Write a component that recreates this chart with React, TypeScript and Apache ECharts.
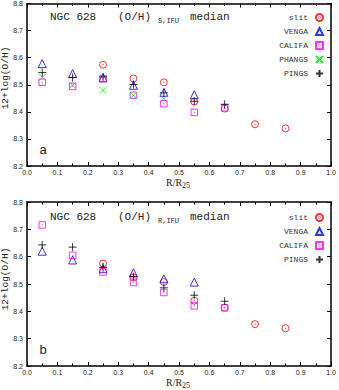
import React, { useEffect, useRef } from "react";
import * as echarts from "echarts";

const xTicks = ["0.0", "0.1", "0.2", "0.3", "0.4", "0.5", "0.6", "0.7", "0.8", "0.9", "1.0"];

// Panel a: (O/H)_S,IFU
const slitRadii = [0.25, 0.35, 0.45, 0.55, 0.65, 0.75, 0.85];
const slitA = [8.574, 8.523, 8.509, 8.438, 8.412, 8.354, 8.339];
const vengaRadii = [0.05, 0.15, 0.25, 0.35, 0.45, 0.55];
const vengaA = [8.578, 8.541, 8.526, 8.498, 8.472, 8.463];
const califaRadii = [0.05, 0.15, 0.25, 0.35, 0.45, 0.55, 0.65];
const califaA = [8.509, 8.494, 8.522, 8.461, 8.43, 8.398, 8.415];
const phangsRadii = [0.05, 0.15, 0.25, 0.35, 0.45];
const phangsA = [8.527, 8.498, 8.479, 8.461, 8.449];
const pingsRadii = [0.05, 0.15, 0.25, 0.35, 0.45, 0.55, 0.65];
const pingsA = [8.545, 8.527, 8.529, 8.501, 8.47, 8.439, 8.428];

// Panel b: (O/H)_R,IFU
const slitB = [8.575, 8.524, 8.507, 8.439, 8.413, 8.353, 8.338];
const vengaB = [8.62, 8.588, 8.556, 8.541, 8.519, 8.507];
const califaB = [8.716, 8.605, 8.544, 8.506, 8.469, 8.42, 8.413];
const pingsB = [8.643, 8.635, 8.561, 8.527, 8.486, 8.459, 8.437];

const legendA = ["slit", "VENGA", "CALIFA", "PHANGS", "PINGS"];
const legendB = ["slit", "VENGA", "CALIFA", "PINGS"];

const SYM_CIRCLE =
  "path://M10,5A5,5,0,1,1,0,5A5,5,0,1,1,10,5ZM5.35,5A0.35,0.35,0,1,1,4.65,5A0.35,0.35,0,1,1,5.35,5Z";
const SYM_SQUARE = "path://M0,0H10V10H0ZM5.35,5A0.35,0.35,0,1,1,4.65,5A0.35,0.35,0,1,1,5.35,5Z";
const SYM_X = "path://M0,0L10,10M10,0L0,10";
const SYM_PLUS = "path://M5,0V10M0,5H10";

const styles: Record<string, { symbol: string; size: number; color: string }> = {
  slit: { symbol: SYM_CIRCLE, size: 7, color: "#ff0000" },
  VENGA: { symbol: "triangle", size: 8, color: "#0000ff" },
  CALIFA: { symbol: SYM_SQUARE, size: 6.5, color: "#ff00ff" },
  PHANGS: { symbol: SYM_X, size: 6.5, color: "#00dd00" },
  PINGS: { symbol: SYM_PLUS, size: 8, color: "#000000" },
};

function pairs(xs: number[], ys: number[]) {
  return ys.map((y, i) => [xs[i], y]);
}

function mkSeries(name: string, xs: number[], ys: number[], idx: number) {
  const s = styles[name];
  return {
    type: "scatter",
    name,
    xAxisIndex: idx * 2,
    yAxisIndex: idx * 2,
    symbol: s.symbol,
    symbolSize: s.size,
    itemStyle: { color: "transparent", borderColor: s.color, borderWidth: 1 },
    emphasis: { disabled: true },
    data: pairs(xs, ys),
  };
}

const GRID_L = 27;
const GRID_W = 308;
const GRID_H = 164;
const TOPS = [2, 202];

function axesFor(i: number) {
  const axisLine = { show: true, onZero: false, lineStyle: { color: "#000", width: 1.5 } };
  const xBase = {
    type: "value",
    gridIndex: i,
    min: 0,
    max: 1,
    interval: 0.1,
    axisLine,
    axisTick: { show: true, inside: true, length: 4, lineStyle: { color: "#000", width: 1 } },
    minorTick: { show: true, splitNumber: 2, length: 2.5, lineStyle: { color: "#000", width: 1 } },
    splitLine: { show: false },
  };
  const yBase = {
    type: "value",
    gridIndex: i,
    min: 8.2,
    max: 8.8,
    interval: 0.1,
    axisLine,
    axisTick: { show: true, inside: true, length: 4, lineStyle: { color: "#000", width: 1 } },
    splitLine: { show: false },
  };
  return {
    x: [
      {
        ...xBase,
        position: "bottom",
        axisLabel: {
          show: true,
          fontSize: 7,
          fontFamily: "Liberation Sans",
          color: "#222",
          margin: 3,
          formatter: (v: number) => xTicks[Math.round(v * 10)],
        },
      },
      { ...xBase, position: "top", axisLabel: { show: false } },
    ],
    y: [
      {
        ...yBase,
        position: "left",
        axisLabel: {
          show: true,
          fontSize: 7,
          fontFamily: "Liberation Sans",
          color: "#222",
          margin: 4,
          formatter: (v: number) => v.toFixed(1),
        },
      },
      { ...yBase, position: "right", axisLabel: { show: false } },
    ],
  };
}

function titleGraphics(top: number, sub: string, letter: string) {
  const mono = "Liberation Mono";
  const t = top - 2;
  return [
    { type: "text", x: 50, y: t + 17, style: { text: "NGC 628", font: `11px "${mono}"`, fill: "#222", verticalAlign: "middle" } },
    { type: "text", x: 118, y: t + 17, style: { text: "(O/H)", font: `11px "${mono}"`, fill: "#222", verticalAlign: "middle" } },
    { type: "text", x: 158, y: t + 21, style: { text: sub, font: `7px "${mono}"`, fill: "#222", verticalAlign: "middle" } },
    { type: "text", x: 190, y: t + 17, style: { text: "median", font: `11px "${mono}"`, fill: "#222", verticalAlign: "middle" } },
    { type: "text", x: 43, y: t + 149, style: { text: letter, font: `13px "Liberation Sans"`, fill: "#222", align: "center", verticalAlign: "middle" } },
    {
      type: "text",
      x: 5,
      y: t + (top === 2 ? 78 : 79),
      rotation: Math.PI / 2,
      style: { text: "12+log(O/H)", font: `9.5px "${mono}"`, fill: "#222", align: "center", verticalAlign: "middle" },
    },
    { type: "text", x: 166, y: top + 180.5, style: { text: "R/R", font: `10px "Liberation Serif"`, fill: "#222", verticalAlign: "middle" } },
    { type: "text", x: 182, y: top + 183.5, style: { text: "25", font: `8px "Liberation Serif"`, fill: "#222", verticalAlign: "middle" } },
  ];
}

export default function App() {
  const ref = useRef<HTMLDivElement>(null);
  useEffect(() => {
    if (!ref.current) return;
    const chart = echarts.init(ref.current, undefined, { renderer: "svg" });
    const a0 = axesFor(0);
    const a1 = axesFor(1);
    const legendCommon = {
      orient: "vertical",
      align: "right",
      right: 15,
      padding: 0,
      itemWidth: 7,
      itemHeight: 7,
      itemGap: 5,
      selectedMode: false,
      textStyle: { fontFamily: "Liberation Mono", fontSize: 8, color: "#333", lineHeight: 7, padding: [0, 3, 0, 0] },
    };
    chart.setOption({
      animation: false,
      backgroundColor: "#fff",
      grid: TOPS.map((t) => ({ left: GRID_L, top: t, width: GRID_W, height: GRID_H })),
      xAxis: [...a0.x, ...a1.x],
      yAxis: [...a0.y, ...a1.y],
      legend: [
        { ...legendCommon, top: 13, data: legendA },
        { ...legendCommon, top: 213, data: legendB },
      ],
      series: [
        mkSeries("slit", slitRadii, slitA, 0),
        mkSeries("VENGA", vengaRadii, vengaA, 0),
        mkSeries("CALIFA", califaRadii, califaA, 0),
        mkSeries("PHANGS", phangsRadii, phangsA, 0),
        mkSeries("PINGS", pingsRadii, pingsA, 0),
        mkSeries("slit", slitRadii, slitB, 1),
        mkSeries("VENGA", vengaRadii, vengaB, 1),
        mkSeries("CALIFA", califaRadii, califaB, 1),
        mkSeries("PINGS", pingsRadii, pingsB, 1),
      ],
      graphic: [...titleGraphics(2, "S,IFU", "a"), ...titleGraphics(202, "R,IFU", "b")],
    });
    return () => chart.dispose();
  }, []);
  return <div ref={ref} style={{ position: "absolute", left: 0, top: 0, width: 339, height: 390 }} />;
}
